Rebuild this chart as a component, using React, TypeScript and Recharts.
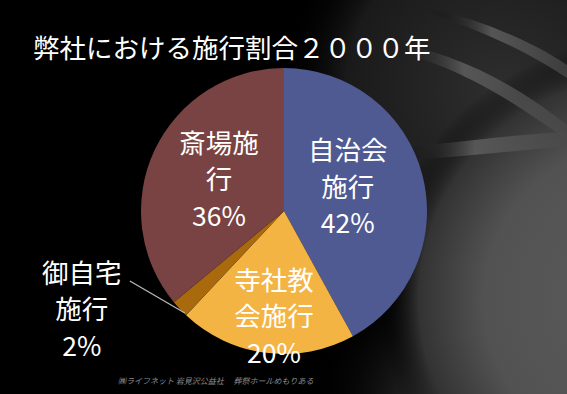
import React from "react";
import { PieChart, Pie, Cell } from "recharts";

const categories = ["自治会施行", "寺社教会施行", "御自宅施行", "斎場施行"];
const labelLines = [["自治会", "施行"], ["寺社教", "会施行"], ["御自宅", "施行"], ["斎場施", "行"]];
const values = [42, 20, 2, 36];
const title = "弊社における施行割合２０００年";
const footer = "㈱ライフネット 岩見沢公益社　 葬祭ホールめもりある";

const colors = ["#4f5a92", "#f4b443", "#a86a0c", "#7a4343"];
// label placement style: radius factor + angle shift (deg) for inside labels
const placement = [
  { r: 0.48, shift: 7.6 },
  { r: 0.73, shift: 1.7 },
  { r: 0, shift: 0 },
  { r: 0.51, shift: -1.8 },
];

const data = categories.map((name, i) => ({ name, value: values[i], lines: labelLines[i] }));
const RAD = Math.PI / 180;
const FONT = '"Noto Sans CJK JP", "Noto Sans", sans-serif';

const renderLabel = (props: any) => {
  const { cx, cy, midAngle, outerRadius, index, percent } = props;
  const lines: string[] = [...labelLines[index], `${Math.round(percent * 100)}%`];
  let x: number, y: number;
  let leader: React.ReactNode = null;
  if (index === 2) {
    const ex = cx + outerRadius * 0.98 * Math.cos(-midAngle * RAD);
    const ey = cy + outerRadius * 0.98 * Math.sin(-midAngle * RAD);
    x = ex - 100;
    y = ey + 1;
    leader = <line x1={ex + 3} y1={ey + 6} x2={ex - 52} y2={ey - 26} stroke="#bbbbbb" strokeWidth={1.2} />;
  } else {
    const p = placement[index];
    const a = (midAngle + p.shift) * RAD;
    x = cx + outerRadius * p.r * Math.cos(-a);
    y = cy + outerRadius * p.r * Math.sin(-a);
  }
  const gap = 36.5;
  return (
    <g>
      {leader}
      {lines.map((t, k) => (
        <text
          key={k}
          x={x}
          y={y + (k - 1) * gap}
          textAnchor="middle"
          dominantBaseline="central"
          fill="#ffffff"
          fontFamily={FONT}
          fontSize={26.5}
        >
          {t}
        </text>
      ))}
    </g>
  );
};

export default function App() {
  return (
    <div
      style={{
        position: "absolute",
        left: 0,
        top: 0,
        width: 567,
        height: 394,
        overflow: "hidden",
        background: "#000",
      }}
    >
      <svg width={567} height={394} style={{ position: "absolute", left: 0, top: 0 }}>
        <defs>
          <radialGradient id="glow" cx="640" cy="300" r="260" gradientUnits="userSpaceOnUse">
            <stop offset="0" stopColor="#5c5c5c" />
            <stop offset="0.6" stopColor="#525252" />
            <stop offset="0.85" stopColor="#333333" />
            <stop offset="1" stopColor="#000" stopOpacity="0" />
          </radialGradient>
          <radialGradient id="glow2" cx="440" cy="400" r="130" gradientUnits="userSpaceOnUse">
            <stop offset="0" stopColor="#3c3c3c" />
            <stop offset="1" stopColor="#000" stopOpacity="0" />
          </radialGradient>
          <radialGradient id="haze" cx="500" cy="90" r="220" gradientUnits="userSpaceOnUse">
            <stop offset="0" stopColor="#2e2e2e" />
            <stop offset="0.7" stopColor="#1a1a1a" />
            <stop offset="1" stopColor="#000" stopOpacity="0" />
          </radialGradient>
          <linearGradient id="streak" x1="0" y1="0" x2="1" y2="0">
            <stop offset="0" stopColor="#000" stopOpacity="0" />
            <stop offset="0.45" stopColor="#5e5e5e" stopOpacity="0.85" />
            <stop offset="1" stopColor="#4a4a4a" stopOpacity="0.7" />
          </linearGradient>
        </defs>
        <rect x={0} y={0} width={567} height={394} fill="#000" />
        <rect x={0} y={0} width={567} height={394} fill="url(#haze)" />
        <rect x={0} y={0} width={567} height={394} fill="url(#glow2)" />
        <rect x={0} y={0} width={567} height={394} fill="url(#glow)" />
        <path d="M380 40 C 450 50, 510 80, 567 125 L 567 140 C 505 95, 450 62, 380 48 Z" fill="url(#streak)" />
        <path d="M430 8 C 480 20, 530 40, 567 65 L 567 78 C 525 50, 480 30, 430 14 Z" fill="url(#streak)" />
        <path d="M400 148 C 460 142, 520 134, 567 132 L 567 146 C 520 150, 460 158, 400 160 Z" fill="url(#streak)" />
      </svg>
      <div
        style={{
          position: "absolute",
          left: 33,
          top: 29,
          color: "#fff",
          fontFamily: FONT,
          fontSize: 26.5,
          lineHeight: "36px",
          whiteSpace: "nowrap",
        }}
      >
        {title}
      </div>
      <div style={{ position: "absolute", left: 0, top: 0 }}>
        <PieChart width={567} height={394} margin={{ top: 0, right: 0, bottom: 0, left: 0 }}>
          <Pie
            data={data}
            dataKey="value"
            nameKey="name"
            cx={284}
            cy={211}
            outerRadius={143}
            startAngle={90}
            endAngle={-270}
            stroke="none"
            label={renderLabel}
            labelLine={false}
            isAnimationActive={false}
          >
            {data.map((d, i) => (
              <Cell key={d.name} fill={colors[i]} />
            ))}
          </Pie>
        </PieChart>
      </div>
      <div
        style={{
          position: "absolute",
          left: 118,
          top: 375,
          color: "#8a8a8a",
          fontFamily: FONT,
          fontSize: 8,
          fontStyle: "italic",
          whiteSpace: "nowrap",
        }}
      >
        {footer}
      </div>
    </div>
  );
}
